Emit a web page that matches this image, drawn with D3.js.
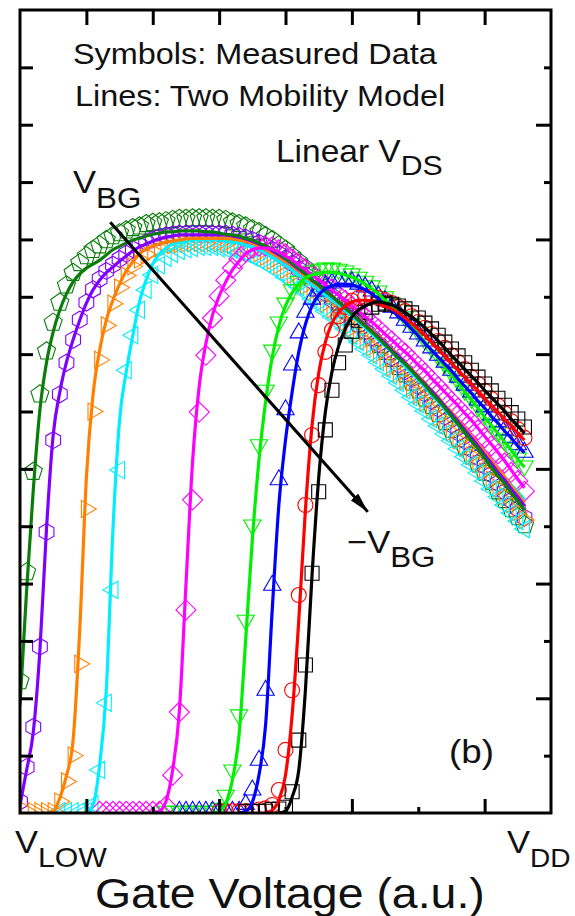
<!DOCTYPE html>
<html>
<head>
<meta charset="utf-8">
<script src="https://cdn.jsdelivr.net/npm/d3@7"></script>
<style>
  body { margin: 0; background: #fff; }
  text { font-family: "Liberation Sans", Arial, sans-serif; fill: #111; }
</style>
</head>
<body>
<svg id="chart" width="575" height="916"></svg>
<script>
// gate voltage sweep (a.u.), one step = 0.1
const gateV = [
  0.0, 0.1, 0.2, 0.3, 0.4, 0.5, 0.6, 0.7, 0.8, 0.9,
  1.0, 1.1, 1.2, 1.3, 1.4, 1.5, 1.6, 1.7, 1.8, 1.9,
  2.0, 2.1, 2.2, 2.3, 2.4, 2.5, 2.6, 2.7, 2.8, 2.9,
  3.0, 3.1, 3.2, 3.3, 3.4, 3.5, 3.6, 3.7, 3.8, 3.9,
  4.0, 4.1, 4.2, 4.3, 4.4, 4.5, 4.6, 4.7, 4.8, 4.9,
  5.0, 5.1, 5.2, 5.3, 5.4, 5.5, 5.6, 5.7, 5.8, 5.9,
  6.0, 6.1, 6.2, 6.3, 6.4, 6.5, 6.6, 6.7, 6.8, 6.9,
  7.0, 7.1, 7.2, 7.3, 7.4, 7.5, 7.6
];

// model lines (mobility, a.u.), each starts at gateV[fitStart]
const fitDarkGreen = [1.88, 3.89, 5.63, 7.03, 7.86, 8.39, 8.77, 9.05, 9.26, 9.40,
  9.50, 9.57, 9.64, 9.73, 9.82, 9.88, 9.94, 9.99, 10.02, 10.06,
  10.09, 10.11, 10.13, 10.13, 10.15, 10.15, 10.15, 10.15, 10.13, 10.13,
  10.11, 10.09, 10.08, 10.06, 10.02, 9.99, 9.94, 9.88, 9.83, 9.76,
  9.67, 9.59, 9.50, 9.40, 9.29, 9.21, 9.10, 9.01, 8.91, 8.80,
  8.70, 8.59, 8.49, 8.39, 8.28, 8.16, 8.05, 7.93, 7.83, 7.71,
  7.58, 7.46, 7.32, 7.20, 7.06, 6.92, 6.78, 6.64, 6.49, 6.35,
  6.19, 6.03, 5.88, 5.74, 5.58, 5.44, 5.28];
const fitPurple = [0.14, 0.75, 1.41, 2.84, 4.97, 6.59, 7.34, 7.86, 8.25, 8.59,
  8.89, 9.12, 9.29, 9.42, 9.52, 9.62, 9.71, 9.80, 9.87, 9.92,
  9.97, 10.01, 10.04, 10.06, 10.08, 10.08, 10.08, 10.08, 10.08, 10.08,
  10.08, 10.08, 10.06, 10.04, 10.01, 9.97, 9.92, 9.87, 9.80, 9.73,
  9.66, 9.57, 9.48, 9.40, 9.29, 9.21, 9.10, 9.01, 8.91, 8.82,
  8.72, 8.61, 8.51, 8.40, 8.30, 8.19, 8.07, 7.97, 7.85, 7.72,
  7.60, 7.48, 7.36, 7.23, 7.09, 6.96, 6.82, 6.68, 6.54, 6.40,
  6.24, 6.10, 5.94, 5.81, 5.65, 5.51, 5.35];
const fitOrange = [0, 0.03, 0.26, 0.65, 1.27, 3.19, 5.84, 7.29, 8.07, 8.59,
  8.94, 9.22, 9.45, 9.61, 9.75, 9.83, 9.88, 9.92, 9.95, 9.97,
  9.99, 10.01, 10.02, 10.02, 10.02, 10.02, 10.02, 10.02, 10.01, 9.99,
  9.97, 9.94, 9.88, 9.83, 9.76, 9.69, 9.62, 9.54, 9.45, 9.36,
  9.27, 9.19, 9.10, 9.01, 8.91, 8.82, 8.72, 8.63, 8.52, 8.42,
  8.32, 8.21, 8.09, 7.98, 7.86, 7.74, 7.62, 7.50, 7.37, 7.25,
  7.11, 6.99, 6.85, 6.71, 6.57, 6.43, 6.29, 6.14, 6.00, 5.86,
  5.70, 5.56, 5.40];
const fitCyan = [0, 0.14, 0.84, 2.14, 4.93, 6.85, 7.69, 8.33, 8.91, 9.29,
  9.57, 9.75, 9.85, 9.92, 9.95, 9.97, 9.99, 9.99, 9.99, 9.99,
  9.99, 9.97, 9.95, 9.94, 9.90, 9.87, 9.82, 9.76, 9.69, 9.62,
  9.55, 9.47, 9.38, 9.29, 9.21, 9.12, 9.03, 8.94, 8.86, 8.75,
  8.66, 8.56, 8.46, 8.35, 8.25, 8.14, 8.04, 7.92, 7.79, 7.67,
  7.55, 7.43, 7.29, 7.17, 7.03, 6.90, 6.76, 6.64, 6.50, 6.38,
  6.24, 6.12, 5.98, 5.86, 5.72, 5.60, 5.46];
const fitMagenta = [0, 0.03, 0.21, 0.75, 1.76, 3.97, 6.12, 7.44, 8.18, 8.68,
  9.01, 9.26, 9.47, 9.62, 9.75, 9.82, 9.85, 9.85, 9.83, 9.78,
  9.71, 9.64, 9.55, 9.47, 9.38, 9.29, 9.21, 9.12, 9.03, 8.94,
  8.84, 8.75, 8.65, 8.56, 8.46, 8.35, 8.25, 8.14, 8.04, 7.93,
  7.81, 7.71, 7.58, 7.46, 7.34, 7.22, 7.10, 6.97, 6.85, 6.71,
  6.57, 6.43, 6.29, 6.14, 5.98, 5.82, 5.67];
const fitGreen = [0, 0.03, 0.17, 0.58, 1.36, 3.02, 4.76, 6.15, 7.17, 7.95,
  8.49, 8.84, 9.07, 9.22, 9.33, 9.38, 9.41, 9.43, 9.43, 9.41,
  9.38, 9.34, 9.29, 9.22, 9.14, 9.05, 8.94, 8.84, 8.72, 8.59,
  8.47, 8.35, 8.21, 8.07, 7.93, 7.78, 7.64, 7.50, 7.34, 7.20,
  7.06, 6.90, 6.76, 6.62, 6.47, 6.33, 6.17, 6.03];
const fitBlue = [0, 0.03, 0.19, 0.66, 1.53, 3.54, 5.37, 6.50, 7.34, 8.04,
  8.52, 8.84, 9.03, 9.14, 9.19, 9.22, 9.22, 9.21, 9.17, 9.12,
  9.05, 8.96, 8.87, 8.77, 8.66, 8.56, 8.44, 8.32, 8.19, 8.07,
  7.95, 7.83, 7.71, 7.57, 7.44, 7.32, 7.18, 7.06, 6.92, 6.80,
  6.66, 6.54, 6.40, 6.28];
const fitRed = [0, 0.05, 0.23, 0.66, 1.71, 3.36, 5.28, 6.76, 7.67, 8.21,
  8.54, 8.73, 8.84, 8.91, 8.94, 8.94, 8.93, 8.89, 8.84, 8.79,
  8.72, 8.63, 8.54, 8.44, 8.33, 8.21, 8.09, 7.97, 7.85, 7.72,
  7.60, 7.48, 7.36, 7.23, 7.11, 6.99, 6.87, 6.75, 6.62, 6.50];
const fitBlack = [0, 0.03, 0.28, 0.75, 2.14, 4.15, 5.84, 6.99, 7.69, 8.14,
  8.44, 8.65, 8.77, 8.84, 8.89, 8.91, 8.89, 8.86, 8.80, 8.73,
  8.65, 8.56, 8.46, 8.35, 8.23, 8.11, 7.98, 7.86, 7.74, 7.62,
  7.50, 7.37, 7.25, 7.13, 7.01, 6.87, 6.75, 6.62];

// measured data, each starts at gateV[measStart]
const measDarkGreen = [2.30, 4.20, 5.95, 7.30, 8.05, 8.55, 8.90, 9.20, 9.42, 9.59,
  9.71, 9.82, 9.90, 9.99, 10.06, 10.11, 10.16, 10.20, 10.23, 10.27,
  10.29, 10.30, 10.32, 10.34, 10.36, 10.36, 10.37, 10.37, 10.37, 10.36,
  10.36, 10.34, 10.30, 10.27, 10.23, 10.18, 10.13, 10.06, 9.99, 9.90,
  9.82, 9.71, 9.61, 9.50, 9.38, 9.26, 9.14, 9.01, 8.89, 8.77,
  8.65, 8.53, 8.40, 8.28, 8.16, 8.04, 7.92, 7.78, 7.65, 7.51,
  7.37, 7.23, 7.10, 6.96, 6.82, 6.68, 6.52, 6.38, 6.22, 6.08,
  5.93, 5.77, 5.61, 5.46, 5.30, 5.16, 5.02];
const measPurple = [0.20, 0.80, 1.50, 2.90, 4.90, 6.50, 7.30, 7.85, 8.25, 8.60,
  8.90, 9.13, 9.31, 9.45, 9.56, 9.66, 9.75, 9.83, 9.90, 9.95,
  10.00, 10.04, 10.07, 10.09, 10.10, 10.10, 10.10, 10.10, 10.10, 10.10,
  10.10, 10.10, 10.08, 10.06, 10.03, 9.99, 9.94, 9.89, 9.82, 9.75,
  9.67, 9.58, 9.48, 9.38, 9.27, 9.17, 9.06, 8.95, 8.84, 8.73,
  8.62, 8.51, 8.40, 8.29, 8.18, 8.06, 7.94, 7.82, 7.70, 7.57,
  7.44, 7.31, 7.18, 7.05, 6.91, 6.77, 6.63, 6.49, 6.34, 6.20,
  6.05, 5.90, 5.75, 5.60, 5.45, 5.30, 5.15];
const measOrange = [0.03, 0.03, 0.03, 0.03, 0.03, 0.20, 0.55, 1.00, 2.60, 5.30,
  7.00, 7.90, 8.50, 8.88, 9.16, 9.37, 9.53, 9.65, 9.74, 9.80,
  9.85, 9.88, 9.90, 9.92, 9.93, 9.94, 9.94, 9.94, 9.94, 9.93,
  9.92, 9.90, 9.88, 9.85, 9.81, 9.76, 9.70, 9.63, 9.55, 9.47,
  9.38, 9.29, 9.19, 9.09, 8.99, 8.88, 8.78, 8.67, 8.56, 8.45,
  8.34, 8.23, 8.12, 8.00, 7.89, 7.77, 7.65, 7.53, 7.41, 7.29,
  7.16, 7.03, 6.90, 6.77, 6.64, 6.50, 6.37, 6.23, 6.09, 5.95,
  5.81, 5.67, 5.53, 5.39, 5.25, 5.11];
const measCyan = [0.03, 0.03, 0.03, 0.03, 0.03, 0.15, 0.75, 1.92, 3.89, 5.98,
  7.72, 8.33, 8.77, 9.12, 9.38, 9.55, 9.68, 9.75, 9.80, 9.83,
  9.85, 9.87, 9.87, 9.87, 9.85, 9.83, 9.82, 9.78, 9.75, 9.69,
  9.64, 9.57, 9.50, 9.43, 9.34, 9.26, 9.17, 9.07, 8.96, 8.86,
  8.75, 8.65, 8.54, 8.44, 8.32, 8.21, 8.09, 7.98, 7.86, 7.74,
  7.62, 7.50, 7.37, 7.25, 7.13, 7.01, 6.87, 6.75, 6.61, 6.49,
  6.35, 6.21, 6.07, 5.93, 5.79, 5.65, 5.51, 5.37, 5.23, 5.09,
  4.95];
const measMagenta = [0.03, 0.03, 0.03, 0.03, 0.03, 0.03, 0.03, 0.03, 0.03, 0.03,
  0.12, 0.66, 1.76, 3.54, 5.46, 6.99, 7.98, 8.63, 9.01, 9.29,
  9.50, 9.66, 9.78, 9.85, 9.88, 9.88, 9.87, 9.82, 9.75, 9.66,
  9.57, 9.48, 9.40, 9.31, 9.22, 9.14, 9.03, 8.94, 8.84, 8.75,
  8.65, 8.54, 8.44, 8.33, 8.23, 8.12, 8.02, 7.90, 7.79, 7.67,
  7.55, 7.43, 7.30, 7.18, 7.06, 6.94, 6.82, 6.68, 6.54, 6.40,
  6.26, 6.10, 5.94, 5.79, 5.61];
const measGreen = [0.03, 0.03, 0.03, 0.03, 0.03, 0.03, 0.03, 0.03, 0.08, 0.31,
  0.75, 1.71, 3.36, 5.02, 6.42, 7.37, 8.07, 8.56, 8.89, 9.12,
  9.27, 9.38, 9.45, 9.48, 9.50, 9.50, 9.48, 9.45, 9.40, 9.34,
  9.27, 9.19, 9.10, 9.00, 8.89, 8.77, 8.65, 8.53, 8.39, 8.25,
  8.11, 7.97, 7.83, 7.67, 7.53, 7.37, 7.23, 7.08, 6.94, 6.78,
  6.64, 6.49, 6.35, 6.19, 6.05];
const measBlue = [0.03, 0.03, 0.03, 0.03, 0.03, 0.03, 0.03, 0.03, 0.03, 0.03,
  0.15, 0.40, 0.92, 2.14, 3.97, 5.81, 7.03, 7.81, 8.37, 8.73,
  8.96, 9.10, 9.19, 9.24, 9.27, 9.27, 9.26, 9.22, 9.17, 9.10,
  9.01, 8.93, 8.82, 8.72, 8.59, 8.47, 8.35, 8.23, 8.11, 7.98,
  7.86, 7.72, 7.60, 7.46, 7.34, 7.20, 7.08, 6.94, 6.82, 6.68,
  6.55, 6.42, 6.29];
const measRed = [0.03, 0.03, 0.03, 0.03, 0.03, 0.03, 0.06, 0.08, 0.14, 0.40,
  1.10, 2.14, 3.80, 5.37, 6.59, 7.46, 8.04, 8.42, 8.66, 8.82,
  8.93, 8.98, 9.00, 9.00, 8.98, 8.94, 8.89, 8.82, 8.75, 8.66,
  8.56, 8.46, 8.35, 8.23, 8.11, 7.98, 7.86, 7.74, 7.60, 7.48,
  7.36, 7.22, 7.10, 6.97, 6.83, 6.69, 6.54];
const measBlack = [0.03, 0.03, 0.03, 0.03, 0.06, 0.07, 0.10,
  0.37, 1.27, 2.58, 4.18, 5.60, 6.68, 7.37, 7.85, 8.16, 8.40,
  8.59, 8.73, 8.82, 8.87, 8.89, 8.87, 8.84, 8.79, 8.72, 8.63,
  8.54, 8.44, 8.33, 8.21, 8.09, 7.97, 7.85, 7.72, 7.60, 7.48,
  7.36, 7.23, 7.11, 6.98, 6.87, 6.73];

// index into gateV where each array begins
const seriesKeys = ["darkgreen", "purple", "orange", "cyan", "magenta", "green", "blue", "red", "black"];
const fitStart  = [0, 0, 4, 10, 20, 29, 33, 37, 39];
const measStart = [0, 0, 1, 6, 12, 22, 24, 30, 34];

const xTicksMajor = [1, 3, 5, 7];
const xTicksMinor = [2, 4, 6];
const xTicksTop = [1, 2, 3, 4, 5, 6, 7];
const yTicksLeft = [1, 2, 3, 4, 5, 6, 7, 8, 9, 10, 11, 12, 13];
const yTicksRightMajor = [2, 4, 6, 8, 10, 12];
const yTicksRightMinor = [1, 3, 5, 7, 9, 11, 13];

const fits = [fitDarkGreen, fitPurple, fitOrange, fitCyan, fitMagenta, fitGreen, fitBlue, fitRed, fitBlack];
const meas = [measDarkGreen, measPurple, measOrange, measCyan, measMagenta, measGreen, measBlue, measRed, measBlack];

const colors = {
  darkgreen: "#0a7d0a", purple: "#8000ff", orange: "#ff8000", cyan: "#00eeff",
  magenta: "#ff00ff", green: "#00f000", blue: "#0000ff", red: "#ff0000", black: "#000000"
};

// regular polygon outline centred at 0,0
function poly(n, r, a0) {
  const pts = d3.range(n).map(k => {
    const a = a0 + k * 2 * Math.PI / n;
    return [r * Math.cos(a), r * Math.sin(a)];
  });
  return "M" + pts.map(p => p[0].toFixed(2) + "," + p[1].toFixed(2)).join("L") + "Z";
}
const shapes = {
  darkgreen: poly(5, 9.5, -Math.PI / 2),
  purple: poly(6, 8.5, -Math.PI / 2),
  orange: poly(3, 10, 0),
  cyan: poly(3, 10, Math.PI),
  magenta: poly(4, 10, 0),
  green: poly(3, 10, Math.PI / 2),
  blue: poly(3, 10, -Math.PI / 2),
  red: d3.symbol(d3.symbolCircle, Math.PI * 7.5 * 7.5)(),
  black: poly(4, 9.9, Math.PI / 4)
};

const svg = d3.select("#chart");
const x = d3.scaleLinear().domain([0, 8]).range([20, 551]);
const y = d3.scaleLinear().domain([0, 14]).range([813, 10]);

const defs = svg.append("defs");
defs.append("clipPath").attr("id", "plot").append("rect")
  .attr("x", x(0)).attr("y", y(14))
  .attr("width", x(8) - x(0)).attr("height", y(0) - y(14));
defs.append("marker")
  .attr("id", "head")
  .attr("viewBox", "0 -5 20 10")
  .attr("refX", 20).attr("refY", 0)
  .attr("markerWidth", 20).attr("markerHeight", 10)
  .attr("markerUnits", "userSpaceOnUse")
  .attr("orient", "auto")
  .append("path").attr("d", "M0,-5L20,0L0,5Z").attr("fill", "#000");

const plot = svg.append("g").attr("clip-path", "url(#plot)");

// symbols (measured)
seriesKeys.forEach((key, s) => {
  const pts = meas[s].map((v, i) => [gateV[measStart[s] + i], v]);
  plot.append("g")
    .selectAll("path")
    .data(pts)
    .enter()
    .append("path")
    .attr("d", shapes[key])
    .attr("transform", d => "translate(" + x(d[0]) + "," + y(d[1]) + ")")
    .attr("fill", "none")
    .attr("stroke", colors[key])
    .attr("stroke-width", 1.1);
});

// model lines
const line = d3.line()
  .x(d => x(d[0]))
  .y(d => y(d[1]))
  .curve(d3.curveMonotoneX);

const lineOrder = ["cyan", "orange", "purple", "darkgreen", "magenta", "green", "blue", "red", "black"];
lineOrder.forEach(key => {
  const s = seriesKeys.indexOf(key);
  const pts = fits[s].map((v, i) => [gateV[fitStart[s] + i], v]);
  plot.append("path")
    .attr("d", line(pts))
    .attr("fill", "none")
    .attr("stroke", colors[key])
    .attr("stroke-width", 3.2);
});

// back gate arrow
const arrowFrom = [1.36, 10.30];
const arrowTo = [5.24, 5.25];
svg.append("line")
  .attr("x1", x(arrowFrom[0])).attr("y1", y(arrowFrom[1]))
  .attr("x2", x(arrowTo[0])).attr("y2", y(arrowTo[1]))
  .attr("stroke", "#000").attr("stroke-width", 3)
  .attr("marker-end", "url(#head)");

// ticks
function ticks(g) {
  g.select(".domain").remove();
  g.selectAll(".tick line").attr("stroke", "#000").attr("stroke-width", 3);
  g.selectAll(".tick text").remove();
}
svg.append("g").attr("transform", "translate(0," + y(14) + ")")
  .call(d3.axisTop(x).tickValues(xTicksTop).tickSize(-15)).call(ticks);
svg.append("g").attr("transform", "translate(0," + y(0) + ")")
  .call(d3.axisBottom(x).tickValues(xTicksMajor).tickSize(-14)).call(ticks);
svg.append("g").attr("transform", "translate(0," + y(0) + ")")
  .call(d3.axisBottom(x).tickValues(xTicksMinor).tickSize(-6)).call(ticks);
svg.append("g").attr("transform", "translate(" + x(0) + ",0)")
  .call(d3.axisLeft(y).tickValues(yTicksLeft).tickSize(-13)).call(ticks);
svg.append("g").attr("transform", "translate(" + x(8) + ",0)")
  .call(d3.axisRight(y).tickValues(yTicksRightMajor).tickSize(-15)).call(ticks);
svg.append("g").attr("transform", "translate(" + x(8) + ",0)")
  .call(d3.axisRight(y).tickValues(yTicksRightMinor).tickSize(-7)).call(ticks);

// frame
svg.append("rect")
  .attr("x", x(0)).attr("y", y(14))
  .attr("width", x(8) - x(0)).attr("height", y(0) - y(14))
  .attr("fill", "none").attr("stroke", "#000").attr("stroke-width", 3);

// text, slightly wide like the source figure
function note(px, py, main, size, sub, subSize, subDy) {
  const t = svg.append("text")
    .attr("transform", "translate(" + px + "," + py + ") scale(1.08,1)")
    .attr("font-size", size);
  t.append("tspan").text(main);
  if (sub) t.append("tspan").attr("font-size", subSize).attr("dy", subDy).text(sub);
}
note(73, 64, "Symbols: Measured Data", 30);
note(75, 106, "Lines: Two Mobility Model", 30);
note(276, 162, "Linear V", 31, "DS", 28, 13);
note(73, 193, "V", 32, "BG", 29, 15);
note(347, 553, "\u2212V", 32, "BG", 29, 14);
note(449, 763, "(b)", 34);
note(15, 853, "V", 32, "LOW", 28, 14);
note(507, 853, "V", 32, "DD", 26, 14);
note(95, 908, "Gate Voltage (a.u.)", 43);
</script>
</body>
</html>
